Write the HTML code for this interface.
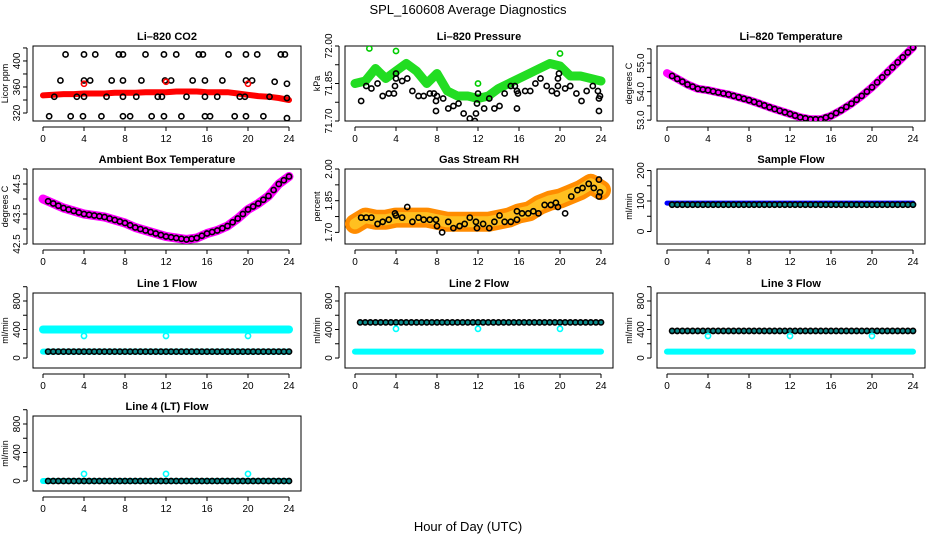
<!DOCTYPE html>
<html><head><meta charset="utf-8"><style>
body{margin:0;background:#fff}
svg{display:block;font-family:"Liberation Sans",Arial,sans-serif}
</style></head><body>
<svg id="c" width="936" height="540" viewBox="0 0 936 540">
<text x="468" y="14" font-size="13" text-anchor="middle">SPL_160608  Average Diagnostics</text>
<text x="468" y="531" font-size="13" text-anchor="middle">Hour of Day (UTC)</text>
</svg>
<script>
const hours = [0,1,2,3,4,5,6,7,8,9,10,11,12,13,14,15,16,17,18,19,20,21,22,23,24];
const xTicks = [0,4,8,12,16,20,24];
// CO2
const co2Main = [347,348,349,349,350,350,350,351,351,351,352,352,352,353,353,353,352,352,352,350,348,346,345,343,340];
const co2Outliers = [[4,365],[12,368],[20,365]];
const co2Black = [[0.6,315],[1.1,345],[1.7,370],[2.2,410],[2.7,315],[3.3,345],[3.9,315],[4,410],[4,345],[4,370],[4.6,370],[5.1,410],[5.7,315],[6.2,345],[6.7,370],[7.4,410],[7.8,410],[7.8,345],[7.8,315],[7.8,370],[8.5,315],[9.1,345],[9.6,370],[10,410],[10.6,315],[11.2,345],[11.6,345],[11.8,315],[11.8,410],[11.9,370],[12.5,370],[13,410],[13.5,315],[14,345],[14.6,370],[15.2,410],[15.6,410],[15.8,370],[15.8,345],[15.8,315],[16.3,315],[17,345],[17.5,370],[18.1,410],[18.7,315],[19.2,345],[19.7,345],[19.8,315],[19.8,410],[19.8,370],[20.4,370],[20.9,410],[21.5,315],[22.1,345],[22.6,368],[23.2,410],[23.6,410],[23.8,365],[23.8,343],[23.8,312]];
// Pressure
const presMain = [71.85,71.86,71.91,71.87,71.90,71.93,71.90,71.85,71.89,71.82,71.80,71.80,71.79,71.80,71.83,71.85,71.87,71.89,71.91,71.93,71.92,71.88,71.88,71.87,71.86];
const presBlack = [[0.6,71.78],[1.1,71.84],[1.6,71.83],[2.2,71.85],[2.7,71.80],[3.3,71.81],[3.8,71.81],[3.9,71.84],[4,71.89],[4,71.87],[4.6,71.86],[5.1,71.87],[5.6,71.82],[6.2,71.80],[6.7,71.80],[7.3,71.81],[7.7,71.81],[7.9,71.78],[7.9,71.74],[8,71.80],[8.6,71.79],[9.1,71.75],[9.6,71.76],[10.1,71.77],[10.6,71.73],[11.2,71.71],[11.7,71.70],[11.8,71.73],[11.9,71.77],[12,71.81],[12.6,71.75],[13.1,71.79],[13.6,71.75],[14.1,71.76],[14.6,71.81],[15.2,71.84],[15.6,71.84],[15.8,71.82],[15.8,71.75],[15.9,71.81],[16.6,71.82],[17.1,71.82],[17.6,71.85],[18.1,71.87],[18.7,71.84],[19.2,71.82],[19.7,71.81],[19.8,71.84],[19.8,71.87],[19.9,71.89],[20.5,71.83],[21,71.84],[21.6,71.81],[22.1,71.78],[22.6,71.82],[23.2,71.84],[23.7,71.82],[23.8,71.79],[23.9,71.80],[23.8,71.74]];
const presOutliers = [[4,71.98],[12,71.85],[20,71.97],[1.4,71.99]];
// Li-820 temperature
const tempMain = [54.65,54.45,54.25,54.1,54.05,53.97,53.9,53.8,53.7,53.58,53.45,53.33,53.22,53.1,53.03,53.03,53.15,53.35,53.58,53.85,54.15,54.5,54.85,55.2,55.55];
// Ambient temperature
const ambMain = [44.0,43.85,43.7,43.6,43.5,43.45,43.4,43.3,43.2,43.05,42.95,42.85,42.75,42.7,42.65,42.7,42.85,42.95,43.1,43.35,43.65,43.85,44.1,44.5,44.75];
// RH
const rhMain = [1.74,1.77,1.76,1.76,1.77,1.77,1.77,1.77,1.76,1.75,1.75,1.75,1.75,1.75,1.76,1.77,1.79,1.80,1.83,1.85,1.86,1.88,1.90,1.93,1.90];
const rhBlack = [0.6,1.77, 1.1,1.77, 1.6,1.77, 2.2,1.74, 2.7,1.75, 3.3,1.76, 3.9,1.79, 4,1.78, 4.6,1.77, 5.1,1.82, 5.6,1.75, 6.2,1.77, 6.7,1.76, 7.3,1.76, 7.9,1.76, 8,1.73, 8.5,1.70, 9.1,1.75, 9.6,1.72, 10.2,1.73, 10.7,1.74, 11.2,1.77, 11.8,1.75, 11.9,1.72, 12.5,1.74, 13.1,1.72, 13.6,1.75, 14.1,1.78, 14.6,1.75, 15.2,1.75, 15.8,1.80, 15.8,1.76, 16.3,1.79, 16.9,1.79, 17.4,1.80, 17.9,1.79, 18.5,1.83, 19.1,1.83, 19.6,1.84, 19.8,1.82, 20.5,1.79, 21.1,1.87, 21.7,1.90, 22.2,1.91, 22.8,1.93, 23.3,1.91, 23.8,1.95, 23.9,1.89, 23.8,1.87];
// flows
const sampleBlue = 93, sampleBlack = 88;
const line1Cyan = 400, line1Black = 90;
const line2Black = 500, line2Cyan = 90;
const line3Black = 380, line3Cyan = 90;
const line4Black = 0, line4Cyan = 0;
const flowOutlierHours = [4,12,20];

const svg = document.getElementById('c');
const NS = 'http://www.w3.org/2000/svg';
function mk(tag, attrs, parent){const e=document.createElementNS(NS,tag);for(const k in attrs)e.setAttribute(k,attrs[k]);(parent||svg).appendChild(e);return e;}

const colX = [43,355,667];
const rowTop = [46,169,293,416];
const PH = 75, XS = 10.25;

function panel(col,row,title,ylab,ymin,ymax,yticks,ytickLabels,name){
  const g = mk('g',{});
  
  
  const x0 = colX[col], top = rowTop[row], bot = top+PH;
  const left = x0-10, right = x0+24*XS+12;
  const sx = h => x0 + h*XS;
  const sy = v => bot - (v-ymin)/(ymax-ymin)*PH;
  const t = mk('text',{x:(left+right)/2,y:top-6,'font-size':11,'font-weight':'bold','text-anchor':'middle'},g);
  t.textContent = title;
  
  
  const frame = mk('rect',{x:left,y:top,width:right-left,height:PH,fill:'none',stroke:'#000','stroke-width':1},g);
  
  
  const xa = mk('g',{},g);
  
  
  mk('line',{x1:sx(0),x2:sx(24),y1:bot+6,y2:bot+6,stroke:'#000'},xa);
  xTicks.forEach(h=>{
    mk('line',{x1:sx(h),x2:sx(h),y1:bot+6,y2:bot+10,stroke:'#000'},xa);
    const tl = mk('text',{x:sx(h),y:bot+21,'font-size':10,'text-anchor':'middle'},xa);
    tl.textContent = h;
  });
  const ya = mk('g',{},g);
  
  
  mk('line',{x1:left-6,x2:left-6,y1:sy(yticks[0]),y2:sy(yticks[yticks.length-1]),stroke:'#000'},ya);
  yticks.forEach((v,i)=>{
    const y = sy(v);
    mk('line',{x1:left-10,x2:left-6,y1:y,y2:y,stroke:'#000'},ya);
    if(ytickLabels[i]!==''){
      const tl = mk('text',{x:left-13,y:y,'font-size':10,'text-anchor':'middle',transform:`rotate(-90 ${left-13} ${y})`},ya);
      tl.textContent = ytickLabels[i];
    }
  });
  const yl = mk('text',{x:left-25,y:(top+bot)/2,'font-size':9,'text-anchor':'middle',transform:`rotate(-90 ${left-25} ${(top+bot)/2})`},ya);
  yl.textContent = ylab;
  const cp = 'cp'+name;
  const defs = mk('defs',{},g);
  const clip = mk('clipPath',{id:cp},defs);
  mk('rect',{x:left,y:top,width:right-left,height:PH},clip);
  const plot = mk('g',{'clip-path':`url(#${cp})`},g);
  
  
  return {sx,sy,plot};
}
function band(p,vals,color,w,name){
  const d = vals.map((v,i)=>(i?'L':'M')+p.sx(hours[i]).toFixed(1)+','+p.sy(v).toFixed(1)).join('');
  const e = mk('path',{d,fill:'none',stroke:color,'stroke-width':w,'stroke-linejoin':'round','stroke-linecap':'round'},p.plot);
  
  
}
function flat(p,v,color,w,name){
  const e = mk('line',{x1:p.sx(0),x2:p.sx(24),y1:p.sy(v),y2:p.sy(v),stroke:color,'stroke-width':w,'stroke-linecap':'round'},p.plot);
  
  
}
function pt(p,h,v,color,name,fill){
  const e = mk('circle',{cx:p.sx(h),cy:p.sy(v),r:2.6,fill:fill||'none',stroke:color,'stroke-width':1.6},p.plot);
  
  
}
function pts(p,arr,color,name){arr.forEach(a=>pt(p,a[0],a[1],color,name));}
function curvePts(p,vals,name){
  for(let h=0.5;h<=24;h+=0.5){
    const i=Math.floor(h), f=h-i;
    const v = i>=24?vals[24]:vals[i]*(1-f)+vals[i+1]*f;
    pt(p,h,v,'#000',name);
  }
}
function flowPts(p,v,name){for(let h=0.5;h<=24;h+=0.5)pt(p,h,v,'#000',name,'#0a8a8a');}

// Row 1
let p = panel(0,0,'Li\u2013820 CO2','Licor ppm',307.7,423,[320,340,360,380,400,420],['320','','360','','400',''],'co2');
band(p,co2Main,'#ff0000',6,'co2-average-band');
pts(p,co2Black,'#000','co2-point');
pts(p,co2Outliers,'#ff0000','co2-outlier');

p = panel(1,0,'Li\u2013820 Pressure','kPa',71.70,72.00,[71.70,71.775,71.85,71.925,72.00],['71.70','','71.85','','72.00'],'pressure');
band(p,presMain,'#22dd22',9,'pressure-average-band');
pts(p,presOutliers,'#00cc00','pressure-outlier');
pts(p,presBlack,'#000','pressure-point');

p = panel(2,0,'Li\u2013820 Temperature','degrees C',52.97,55.6,[53.0,53.5,54.0,54.5,55.0,55.5],['53.0','','54.0','','55.0',''],'temperature');
band(p,tempMain,'#ff00ff',8,'temperature-band');
curvePts(p,tempMain,'temperature-point');

// Row 2
p = panel(0,1,'Ambient Box Temperature','degrees C',42.5,45.0,[42.5,43.0,43.5,44.0,44.5,45.0],['42.5','','43.5','','44.5',''],'ambient');
band(p,ambMain,'#ff00ff',9,'ambient-band');
curvePts(p,ambMain,'ambient-point');

p = panel(1,1,'Gas Stream RH','percent',1.645,2.0,[1.70,1.775,1.85,1.925,2.00],['1.70','','1.85','','2.00'],'rh');
band(p,rhMain,'#ff8c00',20,'rh-band-outer');
band(p,rhMain,'#ffc020',11,'rh-band-inner');
for(let i=0;i<rhBlack.length;i+=2)pt(p,rhBlack[i],rhBlack[i+1],'#000','rh-point');

p = panel(2,1,'Sample Flow','ml/min',-41,205,[0,50,100,150,200],['0','','100','','200'],'sample-flow');
flat(p,sampleBlue,'#0000ff',5,'sample-flow-blue');
flowPts(p,sampleBlack,'sample-flow-point');

// Row 3
const fT=[0,200,400,600,800,1000], fL=['0','','400','','800',''];
p = panel(0,2,'Line 1 Flow','ml/min',-140,912,fT,fL,'line1');
flat(p,line1Cyan,'#00ffff',8,'line1-cyan');
flowOutlierHours.forEach(h=>pt(p,h,line1Cyan-90,'#00ffff','line1-outlier'));
flat(p,line1Black,'#00ffff',6,'line1-cyan-low');
flowPts(p,line1Black,'line1-point');

p = panel(1,2,'Line 2 Flow','ml/min',-140,912,fT,fL,'line2');
flat(p,line2Cyan,'#00ffff',6,'line2-cyan');
flowPts(p,line2Black,'line2-point');
flowOutlierHours.forEach(h=>pt(p,h,line2Black-90,'#00ffff','line2-outlier'));

p = panel(2,2,'Line 3 Flow','ml/min',-140,912,fT,fL,'line3');
flat(p,line3Cyan,'#00ffff',6,'line3-cyan');
flowPts(p,line3Black,'line3-point');
flowOutlierHours.forEach(h=>pt(p,h,line3Black-70,'#00ffff','line3-outlier'));

// Row 4
p = panel(0,3,'Line 4 (LT) Flow','ml/min',-140,912,fT,fL,'line4');
flat(p,line4Cyan,'#00ffff',6,'line4-cyan');
flowOutlierHours.forEach(h=>pt(p,h,line4Cyan+100,'#00ffff','line4-outlier'));
flowPts(p,line4Black,'line4-point');
</script>
</body></html>
